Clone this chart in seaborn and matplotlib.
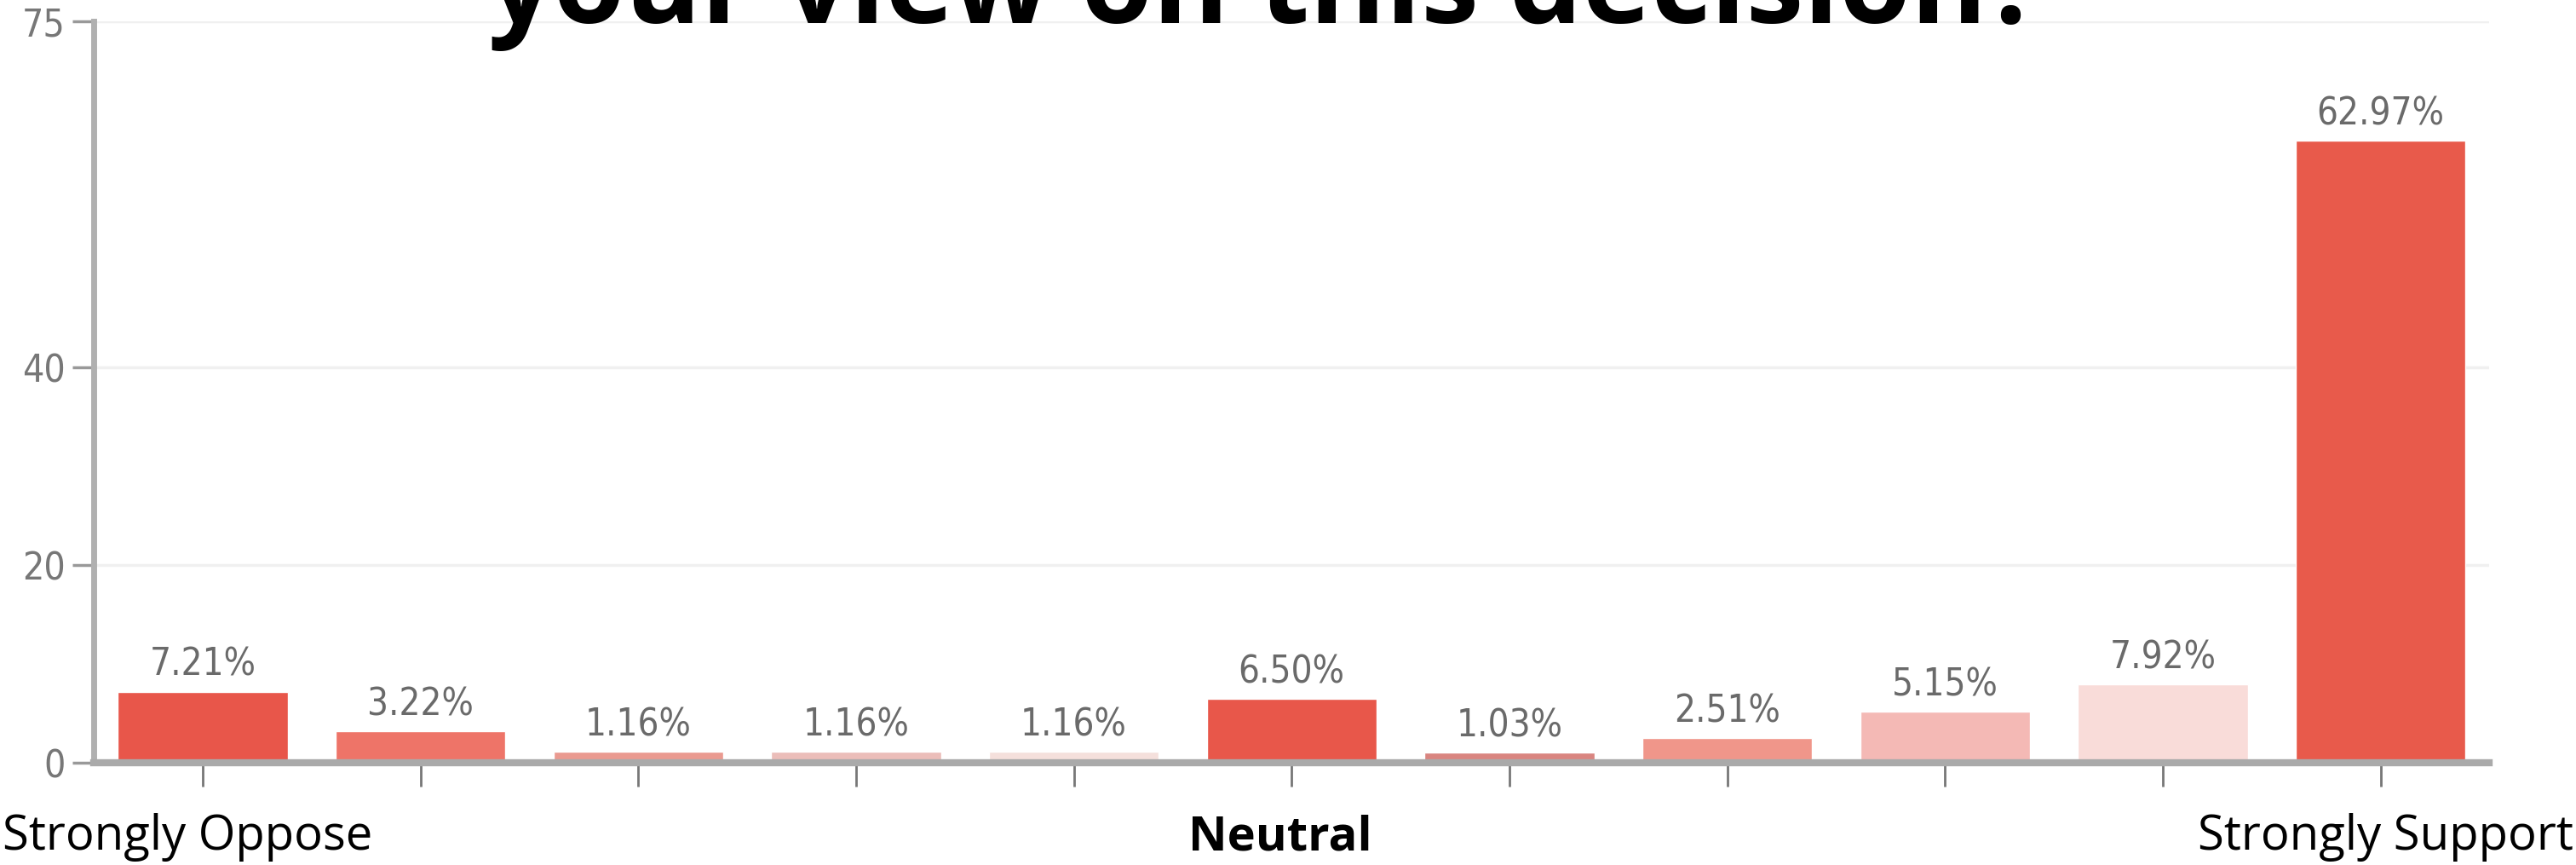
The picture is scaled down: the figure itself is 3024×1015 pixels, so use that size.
import numpy as np
import pandas as pd
import matplotlib
matplotlib.use("Agg")
import matplotlib.pyplot as plt
import seaborn as sns

# data
positions = ["1", "2", "3", "4", "5", "6", "7", "8", "9", "10", "11"]
shares = [7.21, 3.22, 1.16, 1.16, 1.16, 6.50, 1.03, 2.51, 5.15, 7.92, 62.97]
bar_colors = ["#E8564A", "#EE7468", "#EA9A90", "#EBBDB9", "#F5E0DC", "#E8574A",
              "#D98580", "#F0968A", "#F4B9B5", "#F9DCD9", "#E85A4B"]
y_ticks = [0, 20, 40, 75]
title = "your view on this decision?"
left_label = "Strongly Oppose"
mid_label = "Neutral"
right_label = "Strongly Support"

df = pd.DataFrame({"pos": positions, "share": shares})

sns.set_style("white")
plt.rcParams["font.family"] = ["DejaVu Sans"]
plt.rcParams["font.stretch"] = "condensed"

fig = plt.figure(figsize=(30.24, 10.15), dpi=100)
ax = fig.add_axes([0.0364, 0.118, 0.930, 0.857])

sns.barplot(data=df, x="pos", y="share", hue="pos", palette=bar_colors,
            legend=False, width=0.78, ax=ax, saturation=1, zorder=3)

# value labels above bars
for i, v in enumerate(shares):
    ax.annotate(f"{v:.2f}%", (i, v), xytext=(0, 7), textcoords="offset points",
                ha="center", va="bottom", fontsize=31.5, color="#6a6a6a")

ax.set_ylim(0, 75)
ax.set_xlim(-0.5, 10.5)
ax.set_yticks(y_ticks)
ax.set_yticklabels([str(t) for t in y_ticks])
ax.set_xticks(range(len(positions)))
ax.set_xticklabels([])
ax.set_xlabel("")
ax.set_ylabel("")

ax.yaxis.grid(True, color="#f0f0f0", linewidth=2.5, zorder=0)
ax.tick_params(axis="y", left=True, length=18, width=2.5, color="#999999",
               labelsize=32, labelcolor="#777777", pad=6)
ax.tick_params(axis="x", bottom=True, length=20, width=2, color="#777777",
               direction="out")

for s in ["top", "right"]:
    ax.spines[s].set_visible(False)
ax.spines["left"].set_color("#b0b0b0")
ax.spines["left"].set_linewidth(5)
ax.spines["bottom"].set_color("#aaaaaa")
ax.spines["bottom"].set_linewidth(6)
ax.spines["bottom"].set_zorder(4)

# title, cut off at the top edge like in the source image
fig.text(0.491, 0.973, title, ha="center", va="baseline",
         fontsize=98, fontweight="bold", color="black",
         family=["Open Sans", "DejaVu Sans"], fontstretch="normal")

# scale end labels under the axis
side_font = dict(fontsize=40.5, color="black", family=["Open Sans", "DejaVu Sans"],
                 fontstretch="normal", va="center")
fig.text(0.001, 0.032, left_label, ha="left", **side_font)
fig.text(0.497, 0.032, mid_label, ha="center", fontweight="bold", **side_font)
fig.text(0.999, 0.032, right_label, ha="right", **side_font)

fig.savefig("out.png", dpi=100, facecolor="white")
